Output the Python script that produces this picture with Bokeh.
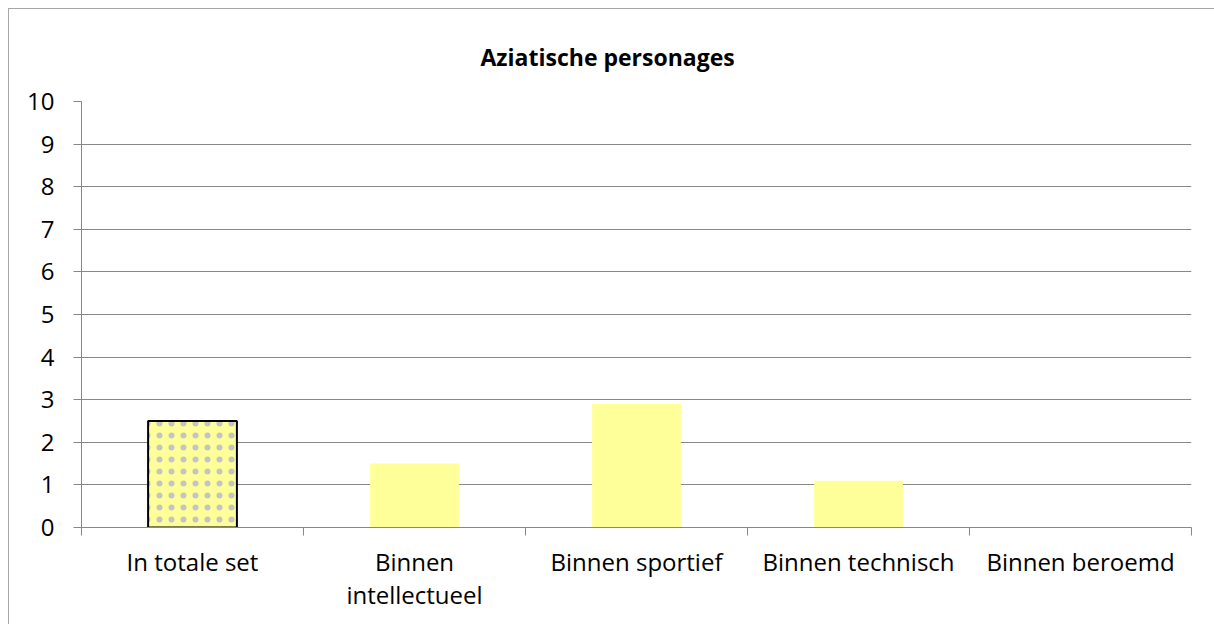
from bokeh.plotting import figure
from bokeh.models import (Range1d, LinearAxis, FixedTicker, ColumnDataSource)
from bokeh.embed import file_html
from bokeh.resources import INLINE

title_text = "Aziatische personages"
categories = ["In totale set", "Binnen\nintellectueel", "Binnen sportief",
              "Binnen technisch", "Binnen beroemd"]
values = [2.5, 1.5, 2.9, 1.1, 0.0]
y_ticks = list(range(0, 11))

FONT = "Open Sans"
GRID = "#878787"

n = len(categories)
centers = [i + 0.5 for i in range(n)]
bounds = list(range(n + 1))

p = figure(width=1206, height=616, output_backend="svg", toolbar_location=None,
           x_range=Range1d(0, n), y_range=Range1d(0, 10),
           x_axis_location=None, min_border_left=72, min_border_right=24,
           min_border_top=92, min_border_bottom=98)
p.styles = {"margin-left": "8px", "margin-top": "8px",
            "border-top": "1px solid #a6a6a6", "border-left": "1px solid #a6a6a6"}

p.title.text = title_text
p.title.align = "left"
p.title.offset = 399
p.title.text_font = FONT
p.title.text_font_size = "23px"
p.title.text_font_style = "bold"
p.title.text_color = "#000000"
p.title.standoff = 58

p.outline_line_color = None
p.xgrid.grid_line_color = None
p.ygrid.grid_line_color = GRID
p.ygrid.ticker = FixedTicker(ticks=y_ticks)

yax = p.yaxis[0]
yax.ticker = FixedTicker(ticks=y_ticks)
yax.axis_line_color = GRID
yax.major_tick_line_color = GRID
yax.major_tick_out = 8
yax.major_tick_in = 0
yax.minor_tick_line_color = None
yax.major_label_text_font = FONT
yax.major_label_text_font_size = "24px"
yax.major_label_text_color = "#000000"
yax.major_label_standoff = 19

# category axis: labels at slot centres, tick marks at slot boundaries
xax = LinearAxis(ticker=FixedTicker(ticks=centers, minor_ticks=bounds),
                 major_label_overrides={c: lab for c, lab in zip(centers, categories)},
                 axis_line_color=GRID,
                 major_tick_line_color=None, major_tick_out=0, major_tick_in=0,
                 minor_tick_line_color=GRID, minor_tick_out=8, minor_tick_in=0,
                 major_label_text_font=FONT,
                 major_label_text_font_size="24px",
                 major_label_text_color="#000000",
                 major_label_text_line_height=1.02,
                 major_label_standoff=9)
p.add_layout(xax, "below")

src = ColumnDataSource(data=dict(x=centers, top=values))
p.vbar(x="x", top="top", width=0.4, source=src, fill_color="#FFFF99",
       line_color=None)
first = ColumnDataSource(data=dict(x=centers[:1], top=values[:1]))
p.vbar(x="x", top="top", width=0.4, source=first, fill_color="#FFFF99",
       line_color="#000000", line_width=2, hatch_pattern="dot",
       hatch_color="#c4c4c4", hatch_scale=12, hatch_weight=0.5)

open("out.html", "w").write(file_html(p, INLINE))
